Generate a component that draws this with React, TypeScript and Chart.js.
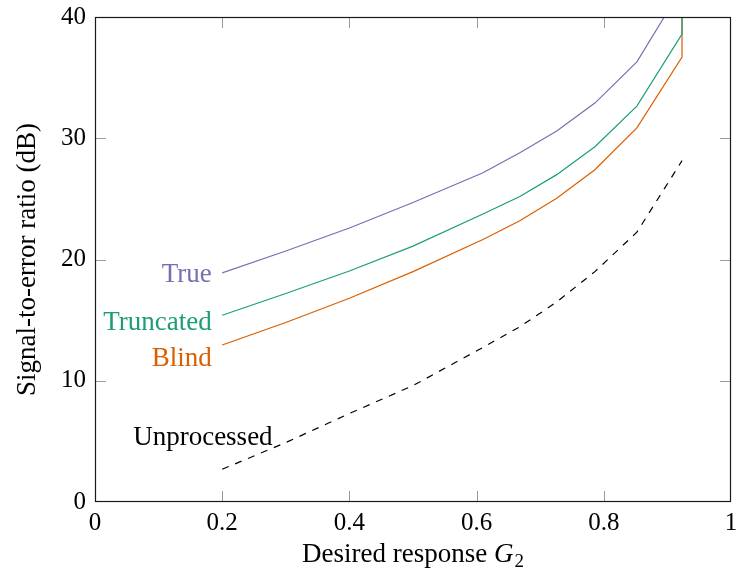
import React, { useEffect, useRef } from "react";
import { Chart, registerables } from "chart.js";

Chart.register(...registerables);

// ---- data ----
const g2 = [0.2, 0.3, 0.4, 0.5, 0.61, 0.668, 0.726, 0.786, 0.852, 0.923];
const trueSER = [18.9, 20.7, 22.6, 24.7, 27.15, 28.8, 30.6, 32.9, 36.3, 42.4];
const truncatedSER = [15.4, 17.2, 19.05, 21.1, 23.75, 25.2, 27.0, 29.3, 32.65, 38.6];
const blindSER = [12.95, 14.8, 16.8, 19.0, 21.65, 23.2, 25.05, 27.4, 30.85, 36.7];
const unprocessedSER = [2.7, 4.9, 7.3, 9.6, 12.75, 14.45, 16.5, 19.0, 22.25, 28.15];
const divergedSER = 90; // value after the last G2 (off the top of the plot)

const seriesNames = ["True", "Truncated", "Blind", "Unprocessed"];
const xTickStep = 0.2;
const yTickStep = 10;

// label anchors in data coordinates
const labelX = [0.1835, 0.1835, 0.1835, 0.06];
const labelY = [18.17, 14.19, 11.22, 4.7];

const FONT = "'Liberation Serif', 'Times New Roman', serif";
const COLORS = ["#7570b3", "#1b9e77", "#d95f02", "#000000"];
const TEXT_SIZE = 27;

const framePlugin = {
  id: "frame",
  beforeDatasetsDraw(chart: any) {
    const { ctx, chartArea: a, scales } = chart;
    const x = scales.x;
    const y = scales.y;
    const TL = 11;
    ctx.save();
    ctx.strokeStyle = "#9b9b9b";
    ctx.lineWidth = 1;
    ctx.beginPath();
    x.ticks.forEach((t: any) => {
      const px = Math.round(x.getPixelForValue(t.value)) + 0.5;
      if (px <= a.left + 1 || px >= a.right - 1) return;
      ctx.moveTo(px, a.bottom);
      ctx.lineTo(px, a.bottom - TL);
      ctx.moveTo(px, a.top);
      ctx.lineTo(px, a.top + TL);
    });
    y.ticks.forEach((t: any) => {
      const py = Math.round(y.getPixelForValue(t.value)) + 0.5;
      if (py <= a.top + 1 || py >= a.bottom - 1) return;
      ctx.moveTo(a.left, py);
      ctx.lineTo(a.left + TL, py);
      ctx.moveTo(a.right, py);
      ctx.lineTo(a.right - TL, py);
    });
    ctx.stroke();
    ctx.restore();
  },
  afterDatasetsDraw(chart: any) {
    const { ctx, chartArea: a, scales } = chart;
    const x = scales.x;
    const y = scales.y;
    ctx.save();
    ctx.strokeStyle = "#1a1a1a";
    ctx.lineWidth = 1.2;
    ctx.strokeRect(Math.round(a.left) + 0.5, Math.round(a.top) + 0.5, Math.round(a.right - a.left) - 1, Math.round(a.bottom - a.top) - 1);

    // series labels
    ctx.font = `${TEXT_SIZE}px ${FONT}`;
    ctx.textBaseline = "alphabetic";
    seriesNames.forEach((name, i) => {
      ctx.fillStyle = COLORS[i];
      ctx.textAlign = i < 3 ? "right" : "left";
      ctx.fillText(name, x.getPixelForValue(labelX[i]), y.getPixelForValue(labelY[i]));
    });

    // x axis title: Desired response G_2
    const base = a.bottom + 60;
    const cx = (a.left + a.right) / 2;
    const p1 = "Desired response ";
    ctx.font = `${TEXT_SIZE}px ${FONT}`;
    const w1 = ctx.measureText(p1).width;
    ctx.font = `italic ${TEXT_SIZE}px ${FONT}`;
    const w2 = ctx.measureText("G").width;
    ctx.font = `19px ${FONT}`;
    const w3 = ctx.measureText("2").width;
    const total = w1 + w2 + w3 + 1;
    let sx = cx - total / 2;
    ctx.fillStyle = "#000";
    ctx.textAlign = "left";
    ctx.font = `${TEXT_SIZE}px ${FONT}`;
    ctx.fillText(p1, sx, base);
    sx += w1;
    ctx.font = `italic ${TEXT_SIZE}px ${FONT}`;
    ctx.fillText("G", sx, base);
    sx += w2 + 1;
    ctx.font = `19px ${FONT}`;
    ctx.fillText("2", sx, base + 5);
    ctx.restore();
  },
};

export default function App() {
  const ref = useRef<HTMLCanvasElement>(null);
  useEffect(() => {
    document.body.style.margin = "0";
    const canvas = ref.current!;
    const mk = (ys: number[], tail?: number) => {
      const pts = g2.map((gx, i) => ({ x: gx, y: ys[i] }));
      if (tail !== undefined) pts.push({ x: g2[g2.length - 1], y: tail });
      return pts;
    };
    const base = { pointRadius: 0, borderWidth: 1.2, tension: 0, fill: false };
    const chart = new Chart(canvas, {
      type: "line",
      data: {
        datasets: [
          { ...base, label: seriesNames[0], data: mk(trueSER, divergedSER), borderColor: COLORS[0] },
          { ...base, label: seriesNames[1], data: mk(truncatedSER, divergedSER), borderColor: COLORS[1] },
          { ...base, label: seriesNames[2], data: mk(blindSER, divergedSER), borderColor: COLORS[2] },
          { ...base, label: seriesNames[3], data: mk(unprocessedSER), borderColor: COLORS[3], borderDash: [7, 7] },
        ],
      },
      options: {
        animation: false,
        responsive: false,
        devicePixelRatio: 1,
        events: [],
        layout: { padding: { top: 17, right: 5, left: 0, bottom: 0 } },
        plugins: { legend: { display: false }, tooltip: { enabled: false } },
        scales: {
          x: {
            type: "linear",
            min: 0,
            max: 1,
            grid: { display: false, drawTicks: false },
            border: { display: false },
            ticks: {
              stepSize: xTickStep,
              color: "#000",
              font: { family: FONT, size: 25 },
              padding: 6,
              maxRotation: 0,
              autoSkip: false,
              callback: (v: any) => {
                const n = Number(v);
                return Math.abs(n - Math.round(n)) < 1e-9 ? String(Math.round(n)) : n.toFixed(1);
              },
            },
            afterFit: (s: any) => {
              s.height = 74;
              s.paddingLeft = 0;
              s.paddingRight = 0;
            },
          },
          y: {
            type: "linear",
            min: 0,
            max: 40,
            grid: { display: false, drawTicks: false },
            border: { display: false },
            ticks: {
              stepSize: yTickStep,
              color: "#000",
              font: { family: FONT, size: 25 },
              padding: 9,
            },
            title: {
              display: true,
              text: "Signal-to-error ratio (dB)",
              color: "#000",
              font: { family: FONT, size: TEXT_SIZE },
              padding: { top: 12, bottom: 0 },
            },
            afterFit: (s: any) => {
              s.width = 95;
              s.paddingTop = 0;
              s.paddingBottom = 0;
            },
          },
        },
      },
      plugins: [framePlugin],
    });
    return () => chart.destroy();
  }, []);
  return <canvas ref={ref} width={736} height={576} style={{ display: "block" }} />;
}
